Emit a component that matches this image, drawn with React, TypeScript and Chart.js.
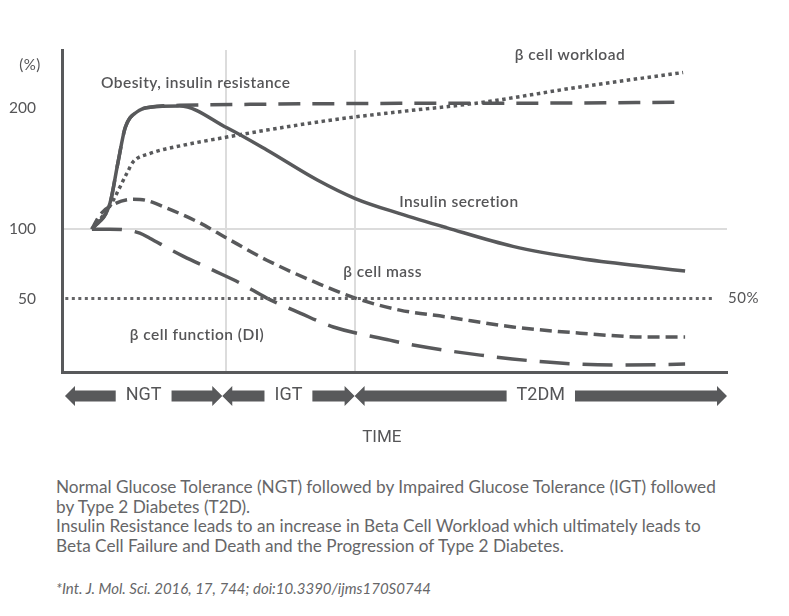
import React, { useEffect, useRef } from 'react';
import { Chart, registerables, LinearScale } from 'chart.js';

// ---- scale settings ----
const Y_EXPONENT = 0.8; // the reference axis is compressed (power-like)
const Y_MIN = 7.35;
const Y_MAX = 252.6;
const X_MIN = 0;
const X_MAX = 100;
const Y_TICKS = [50, 100, 200];
const GRID_X = [24.6, 44.1];

// ---- stages along the time axis ----
const STAGE_LABELS = ['NGT', 'IGT', 'T2DM'];
const STAGE_BOUNDS = [0.45, 24.1, 44.0, 100];

// ---- series (time units, % values) ----
const SECRETION_T = [4.5, 7.2, 8.4, 9.5, 11.3, 13.2, 17.7, 24.8, 30.8, 38.4, 44.1, 50.8, 57.9, 67.8, 77.9, 88.0, 93.7];
const SECRETION_V = [100, 120, 153, 183, 197, 201, 202, 183, 164, 139, 124, 112, 101, 87, 78, 72, 69];

const RESISTANCE_T = [4.5, 7.2, 8.4, 9.5, 11.3, 13.2, 17.7, 28.3, 50.8, 73.4, 92.9];
const RESISTANCE_V = [100, 120, 153, 183, 197, 201, 202.6, 203.5, 204.4, 204.6, 205.3];

const WORKLOAD_T = [4.5, 7.2, 9.8, 10.7, 13.2, 18.2, 24.8, 30.8, 40.8, 50.8, 62.9, 77.9, 93.4];
const WORKLOAD_V = [100, 118, 145, 154, 161, 168, 175, 181, 190, 197, 205, 219, 232];

const MASS_T = [4.5, 5.7, 8.0, 10.7, 12.5, 15.8, 20.8, 24.8, 30.8, 38.4, 44.1, 50.8, 57.9, 67.8, 77.9, 88.0, 93.7];
const MASS_V = [100, 111, 120, 123.4, 122.7, 116.3, 104.6, 93.1, 76.8, 60.5, 50.3, 42.4, 38.0, 31.8, 28.1, 25.8, 25.8];

const FUNCTION_T = [4.5, 7.2, 9.8, 11.7, 13.2, 16.2, 18.2, 22.7, 26.8, 30.8, 35.8, 40.8, 49.3, 52.8, 62.9, 72.9, 82.9, 93.7];
const FUNCTION_V = [100, 100, 99.2, 96.9, 93.1, 84.9, 79.8, 69.6, 60.5, 50.3, 40.5, 31.8, 24.0, 21.2, 15.7, 12.1, 10.6, 11.1];

const HALF_T = [0.5, 97.9];
const HALF_V = [50, 50];

// ---- text labels inside the plot (time units, % values) ----
const LABEL_TEXT = ['Obesity, insulin resistance', 'β cell workload', 'Insulin secretion', 'β cell mass', 'β cell function (DI)', '50%', '(%)'];
const LABEL_T = [5.86, 68.1, 50.7, 42.3, 10.2, 100.15, -4.8];
const LABEL_V = [222.2, 247.6, 121.1, 68.2, 27.0, 50, 238.5];

const AXIS_TITLE = 'TIME';
const AXIS_TITLE_T = 48.1;

const NOTE_LINES = [
  'Normal Glucose Tolerance (NGT) followed by Impaired Glucose Tolerance (IGT) followed',
  'by Type 2 Diabetes (T2D).',
  'Insulin Resistance leads to an increase in Beta Cell Workload which ultimately leads to',
  'Beta Cell Failure and Death and the Progression of Type 2 Diabetes.',
];
const CITATION = '*Int. J. Mol. Sci. 2016, 17, 744; doi:10.3390/ijms170S0744';

const DARK = '#58595b';
const TEXT = '#555557';

const pw = (x: number) => Math.sign(x) * Math.pow(Math.abs(x), Y_EXPONENT);

class PowerScale extends LinearScale {
  static id = 'power';
  static defaults = LinearScale.defaults;
  getPixelForValue(value: any) {
    if (value === null || value === undefined || isNaN(value)) return NaN;
    const a = pw(this.min);
    const b = pw(this.max);
    return this.getPixelForDecimal((pw(value) - a) / (b - a));
  }
  getValueForPixel(pixel: number) {
    const a = pw(this.min);
    const b = pw(this.max);
    const g = a + this.getDecimalForPixel(pixel) * (b - a);
    return Math.sign(g) * Math.pow(Math.abs(g), 1 / Y_EXPONENT);
  }
}

Chart.register(...registerables, PowerScale as any);

const zip = (t: number[], v: number[]) => t.map((x, i) => ({ x, y: v[i] }));

const annotations = {
  id: 'annotations',
  afterDraw(chart: any) {
    const ctx = chart.ctx;
    const xs = chart.scales.x;
    const ys = chart.scales.y;
    const area = chart.chartArea;
    ctx.save();
    // in-plot labels
    ctx.fillStyle = TEXT;
    ctx.textBaseline = 'middle';
    LABEL_TEXT.forEach((txt, i) => {
      const isTick = txt === '(%)' || txt === '50%';
      ctx.font = isTick ? '15px Lato' : '600 15.5px Lato';
      (ctx as any).letterSpacing = isTick ? '0.5px' : '0.45px';
      ctx.textAlign = txt === '(%)' ? 'center' : 'left';
      ctx.fillText(txt, xs.getPixelForValue(LABEL_T[i]), ys.getPixelForValue(LABEL_V[i]));
    });
    (ctx as any).letterSpacing = '0px';
    // stage arrows
    const y = area.bottom + 24;
    const head = 10, hh = 10, sh = 5.5, gap = 10;
    ctx.font = '18px Roboto';
    ctx.textAlign = 'center';
    STAGE_LABELS.forEach((label, i) => {
      const x0 = xs.getPixelForValue(STAGE_BOUNDS[i]);
      const x1 = xs.getPixelForValue(STAGE_BOUNDS[i + 1]);
      const tw = ctx.measureText(label).width;
      const cx = (x0 + x1) / 2;
      const l1 = cx - tw / 2 - gap;
      const r0 = cx + tw / 2 + gap;
      ctx.fillStyle = DARK;
      ctx.beginPath();
      ctx.moveTo(x0, y);
      ctx.lineTo(x0 + head, y - hh);
      ctx.lineTo(x0 + head, y - sh);
      ctx.lineTo(l1, y - sh);
      ctx.lineTo(l1, y + sh);
      ctx.lineTo(x0 + head, y + sh);
      ctx.lineTo(x0 + head, y + hh);
      ctx.closePath();
      ctx.fill();
      ctx.beginPath();
      ctx.moveTo(x1, y);
      ctx.lineTo(x1 - head, y - hh);
      ctx.lineTo(x1 - head, y - sh);
      ctx.lineTo(r0, y - sh);
      ctx.lineTo(r0, y + sh);
      ctx.lineTo(x1 - head, y + sh);
      ctx.lineTo(x1 - head, y + hh);
      ctx.closePath();
      ctx.fill();
      ctx.fillStyle = TEXT;
      ctx.fillText(label, cx, y - 1);
    });
    // axis title
    ctx.font = '17px Roboto';
    ctx.fillStyle = TEXT;
    ctx.fillText(AXIS_TITLE, xs.getPixelForValue(AXIS_TITLE_T), area.bottom + 66);
    ctx.restore();
  },
};

export default function App() {
  const ref = useRef<HTMLCanvasElement>(null);
  useEffect(() => {
    if (!ref.current) return;
    const line = (data: any, dash: number[], width = 3.5, color = DARK) => ({
      data,
      borderColor: color,
      borderWidth: width,
      borderDash: dash,
      borderCapStyle: 'butt',
      pointRadius: 0,
      fill: false,
      cubicInterpolationMode: 'monotone',
    });
    const chart = new Chart(ref.current, {
      type: 'line',
      data: {
        datasets: [
          line(zip(HALF_T, HALF_V), [3, 3.5], 3, '#646466'),
          line(zip(FUNCTION_T, FUNCTION_V), [30, 13]),
          line(zip(MASS_T, MASS_V), [12, 6]),
          line(zip(WORKLOAD_T, WORKLOAD_V), [3.5, 3.5]),
          line(zip(RESISTANCE_T, RESISTANCE_V), [22, 12]),
          line(zip(SECRETION_T, SECRETION_V), []),
        ] as any,
      },
      options: {
        responsive: false,
        maintainAspectRatio: false,
        animation: false,
        events: [],
        layout: { padding: { top: 50, right: 62, bottom: 88, left: 0 } },
        plugins: { legend: { display: false }, tooltip: { enabled: false } },
        scales: {
          x: {
            type: 'linear',
            min: X_MIN,
            max: X_MAX,
            afterFit: (s: any) => { s.height = 0; },
            afterBuildTicks: (s: any) => { s.ticks = GRID_X.map((value) => ({ value })); },
            ticks: { display: false },
            grid: { color: '#dcdcdc', lineWidth: 2, drawTicks: false },
            border: { color: DARK, width: 3 },
          },
          y: {
            type: 'power' as any,
            min: Y_MIN,
            max: Y_MAX,
            afterFit: (s: any) => { s.width = 62; },
            afterBuildTicks: (s: any) => { s.ticks = Y_TICKS.map((value) => ({ value })); },
            ticks: {
              padding: 26,
              color: TEXT,
              font: { family: 'Lato', size: 15.5 },
              callback: (v: any) => String(v),
            },
            grid: {
              drawTicks: false,
              lineWidth: 2,
              color: (c: any) => (c.tick && c.tick.value === 100 ? '#dcdcdc' : 'rgba(0,0,0,0)'),
            },
            border: { color: DARK, width: 3 },
          },
        },
      } as any,
      plugins: [annotations],
    });
    return () => chart.destroy();
  }, []);

  return (
    <div style={{ position: 'absolute', left: 0, top: 0, width: 789, height: 616, background: '#fff' }}>
      <canvas ref={ref} width={789} height={460} style={{ position: 'absolute', left: 0, top: 0, width: 789, height: 460 }} />
      <div style={{ position: 'absolute', left: 56, top: 477, fontFamily: 'Lato', fontSize: 17.2, lineHeight: '19.5px', color: '#666668', whiteSpace: 'nowrap' }}>
        {NOTE_LINES.map((l, i) => (
          <div key={i}>{l}</div>
        ))}
      </div>
      <div style={{ position: 'absolute', left: 56, top: 579, fontFamily: 'Lato', fontSize: 15, fontStyle: 'italic', lineHeight: '18px', color: '#666668', whiteSpace: 'nowrap' }}>
        {CITATION}
      </div>
    </div>
  );
}
